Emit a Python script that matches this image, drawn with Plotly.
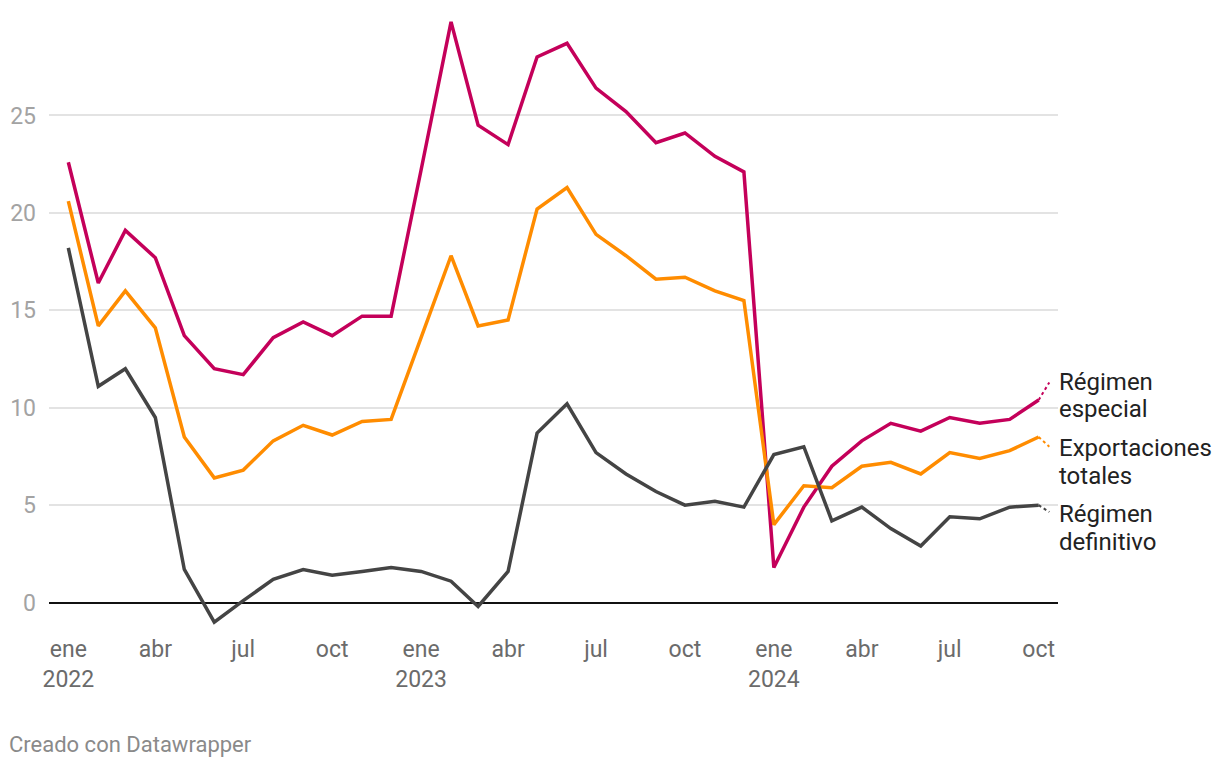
import plotly.graph_objects as go
import pandas as pd

months = pd.date_range("2022-01-01", "2024-10-01", freq="MS")

regimen_especial = [22.6, 16.4, 19.1, 17.7, 13.7, 12.0, 11.7, 13.6, 14.4, 13.7, 14.7, 14.7,
                    22.2, 29.8, 24.5, 23.5, 28.0, 28.7, 26.4, 25.2, 23.6, 24.1, 22.9, 22.1,
                    1.8, 4.9, 7.0, 8.3, 9.2, 8.8, 9.5, 9.2, 9.4, 10.4]
exportaciones_totales = [20.6, 14.2, 16.0, 14.1, 8.5, 6.4, 6.8, 8.3, 9.1, 8.6, 9.3, 9.4,
                         13.6, 17.8, 14.2, 14.5, 20.2, 21.3, 18.9, 17.8, 16.6, 16.7, 16.0, 15.5,
                         4.0, 6.0, 5.9, 7.0, 7.2, 6.6, 7.7, 7.4, 7.8, 8.5]
regimen_definitivo = [18.2, 11.1, 12.0, 9.5, 1.7, -1.0, 0.1, 1.2, 1.7, 1.4, 1.6, 1.8,
                      1.6, 1.1, -0.2, 1.6, 8.7, 10.2, 7.7, 6.6, 5.7, 5.0, 5.2, 4.9,
                      7.6, 8.0, 4.2, 4.9, 3.8, 2.9, 4.4, 4.3, 4.9, 5.0]

series_labels = [["Régimen", "especial"], ["Exportaciones", "totales"], ["Régimen", "definitivo"]]
series_values = [regimen_especial, exportaciones_totales, regimen_definitivo]
series_colors = ["#c4005a", "#ff8c00", "#444444"]
label_line_y = [[11.32, 9.93], [7.93, 6.49], [4.54, 3.11]]
connector_end_y = [11.3, 8.0, 4.65]

tick_dates = pd.date_range("2022-01-01", "2024-10-01", freq="3MS")
month_abbr = {1: "ene", 4: "abr", 7: "jul", 10: "oct"}
tick_text = [f"{month_abbr[d.month]}<br>{d.year}" if d.month == 1 else month_abbr[d.month]
             for d in tick_dates]

FONT = "Roboto"

fig = go.Figure()

for lab, vals, col in zip(series_labels, series_values, series_colors):
    fig.add_trace(go.Scatter(x=months, y=vals, mode="lines", name=" ".join(lab),
                             line=dict(color=col, width=3.5), showlegend=False,
                             hoverinfo="skip"))

last = months[-1]
end_x = last + pd.Timedelta(days=11)
for vals, col, ey in zip(series_values, series_colors, connector_end_y):
    fig.add_trace(go.Scatter(x=[last, end_x], y=[vals[-1], ey], mode="lines",
                             line=dict(color=col, width=2, dash="dot"),
                             showlegend=False, hoverinfo="skip"))

for lines, ys in zip(series_labels, label_line_y):
    for txt, ly in zip(lines, ys):
        fig.add_annotation(x=1.0, xref="paper", y=ly, yref="y", text=txt,
                           showarrow=False, xanchor="left", yanchor="middle", align="left",
                           xshift=-1, font=dict(family=FONT, size=24, color="#222222"))

fig.add_annotation(x=0, xref="paper", y=0, yref="paper", text="Creado con Datawrapper",
                   showarrow=False, xanchor="left", yanchor="top", xshift=-42, yshift=-104,
                   font=dict(family=FONT, size=22, color="#8a8a8a"))

fig.update_xaxes(range=[pd.Timestamp("2021-12-12"), pd.Timestamp("2024-10-21")],
                 tickvals=tick_dates, ticktext=tick_text, showgrid=False, zeroline=False,
                 showline=False, ticks="", automargin=False, ticklabelstandoff=7,
                 tickfont=dict(family=FONT, size=23, color="#6b6b6b"))
fig.update_yaxes(range=[-1.2, 30.0], tickvals=[0, 5, 10, 15, 20, 25], showgrid=True,
                 gridcolor="#e3e3e3", gridwidth=1.5, zeroline=True, zerolinecolor="#111111",
                 zerolinewidth=2, ticks="", ticklabelstandoff=12, automargin=False,
                 tickfont=dict(family=FONT, size=23, color="#a3a3a3"))

fig.update_layout(width=1212, height=760, plot_bgcolor="white", paper_bgcolor="white",
                  margin=dict(l=41, r=162, t=10, b=142), font=dict(family=FONT))

fig.write_html("out.html")
